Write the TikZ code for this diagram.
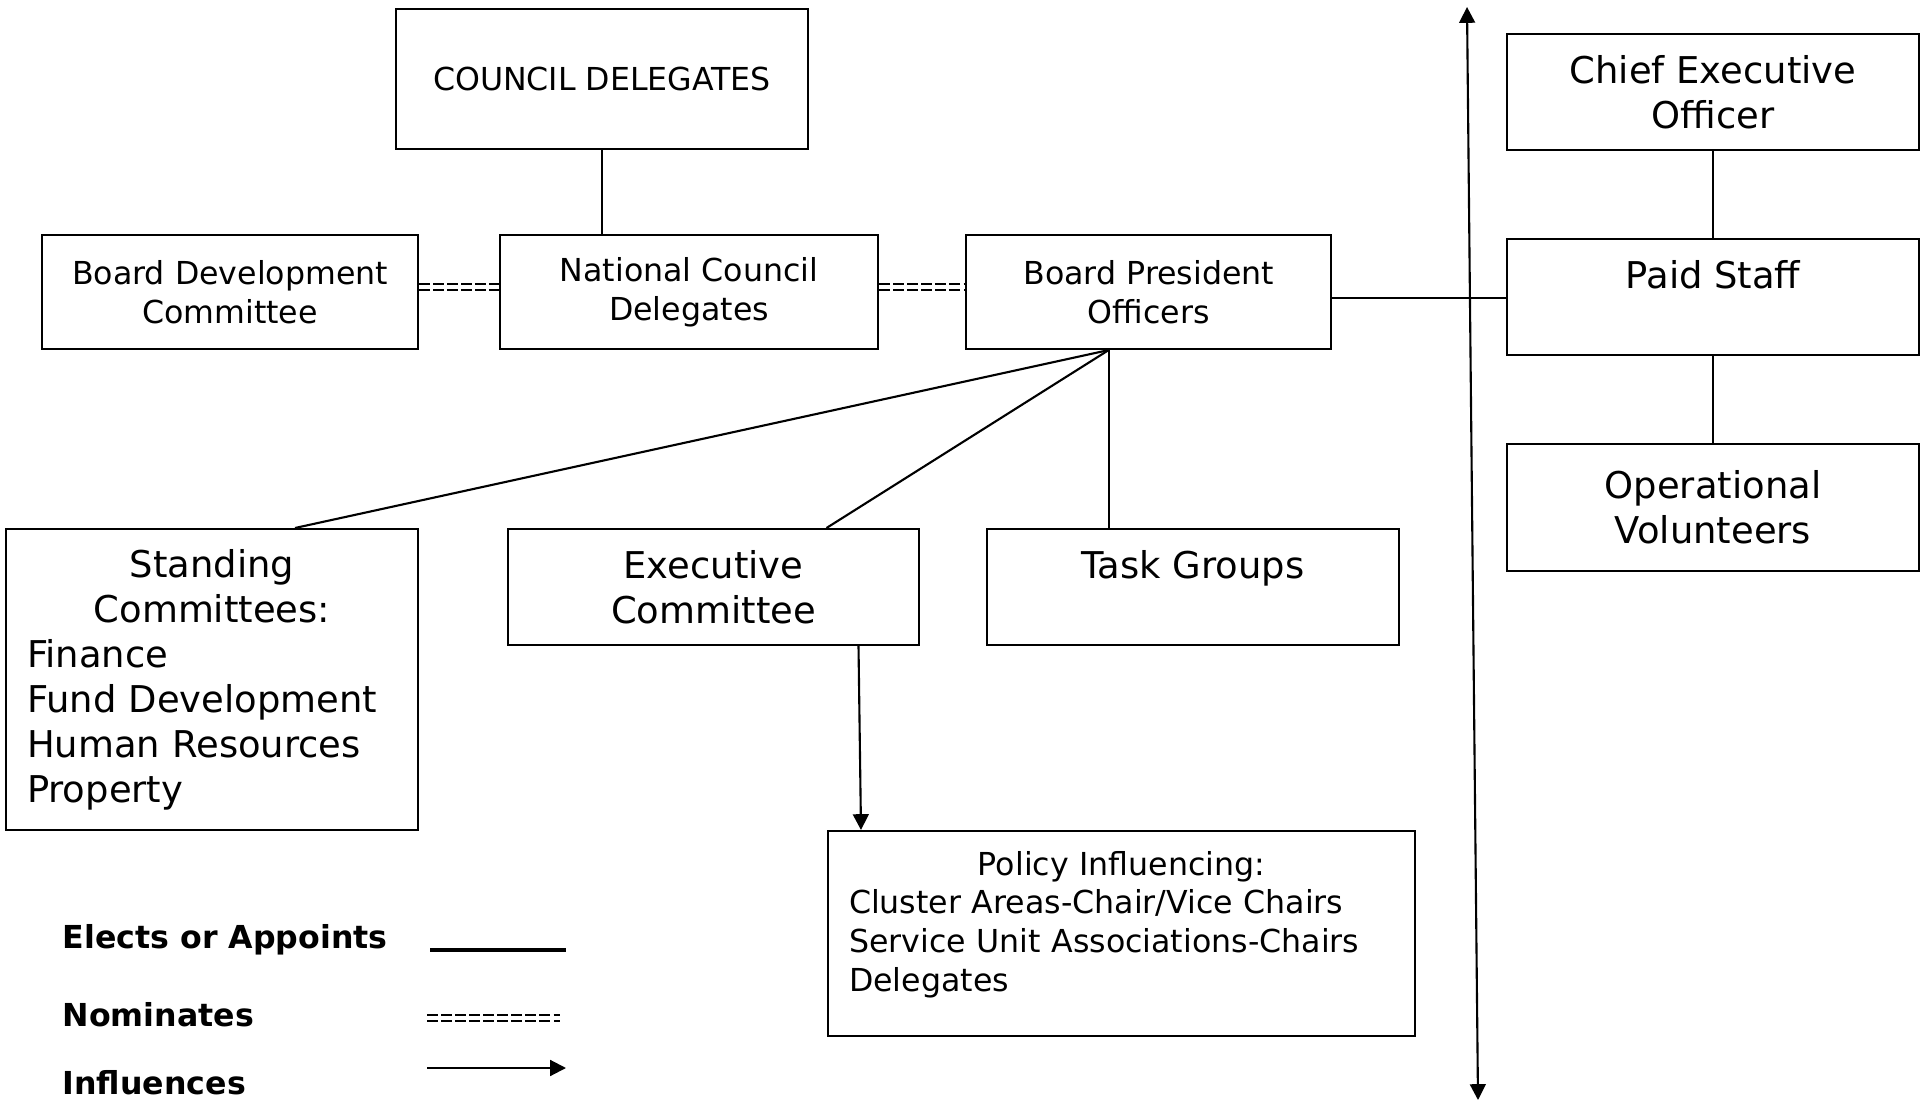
\documentclass[tikz,border=0pt]{standalone}
\usepackage{fontspec}
\setmainfont{DejaVu Sans}
\usetikzlibrary{positioning,arrows.meta}

\begin{document}
\begin{tikzpicture}[
    box/.style={rectangle, draw=black, line width=0.6pt, align=center, inner sep=2pt, font=\fontsize{9}{11}\selectfont},
    bigbox/.style={box, font=\fontsize{10.5}{12.8}\selectfont},
    elects/.style={line width=0.6pt},
    nominates/.style={double=white, double distance=1.4pt, line width=0.5pt, dash pattern=on 3pt off 1pt},
    influences/.style={line width=0.6pt, -{Triangle[length=4.5pt,width=4.5pt]}},
    twoway/.style={influences, {Triangle[length=4.5pt,width=4.5pt]}-{Triangle[length=4.5pt,width=4.5pt]}},
    key/.style={anchor=west, inner sep=0pt, font=\bfseries\fontsize{9}{11}\selectfont},
    black
    ]
    \useasboundingbox (0,0) rectangle (19.29,-11.01);

    %Nodes
    \node[box, minimum width=4.12cm, minimum height=1.40cm]    (council)    at (6.02,-0.79)               {COUNCIL DELEGATES};
    \node[box, minimum width=3.76cm, minimum height=1.14cm]    (board_dev)  at (2.30,-2.92)               {Board Development\\Committee};
    \node[box, minimum width=3.78cm, minimum height=1.14cm]    (national)   [right=0.80cm of board_dev]  {National Council\\Delegates};
    \node[box, minimum width=3.65cm, minimum height=1.14cm]    (president)  [right=0.86cm of national]   {Board President\\Officers};
    \node[bigbox, minimum width=4.12cm, minimum height=1.16cm] (ceo)        at (17.13,-0.92)              {Chief Executive\\Officer};
    \node[bigbox, minimum width=4.12cm, minimum height=1.16cm] (staff)      [below=0.87cm of ceo]        {Paid Staff\\\mbox{}};
    \node[bigbox, minimum width=4.12cm, minimum height=1.27cm] (volunteers) [below=0.87cm of staff]      {Operational\\Volunteers};
    \node[bigbox, minimum width=4.12cm, minimum height=3.01cm, text width=3.70cm, align=left, anchor=north] (standing) at (2.12,-5.28)
        {{\centering Standing\\Committees:\par}Finance\\Fund Development\\Human Resources\\Property};
    \node[bigbox, minimum width=4.11cm, minimum height=1.16cm, anchor=north] (exec) at (7.135,-5.28)    {Executive\\Committee};
    \node[bigbox, minimum width=4.12cm, minimum height=1.16cm, anchor=north] (task) at (11.927,-5.28)   {Task Groups\\\mbox{}};
    \node[box, minimum width=5.87cm, minimum height=2.05cm, text width=5.45cm, align=left, anchor=north west] (policy) at (8.27,-8.30)
        {{\centering Policy Influencing:\par}Cluster Areas-Chair/Vice Chairs\\Service Unit Associations-Chairs\\Delegates\\[-4pt]\mbox{}};

    %Legend
    \node[key] (key_elects)     at (0.62,-9.40)  {Elects or Appoints};
    \node[key] (key_nominates)  at (0.62,-10.15) {Nominates};
    \node[key] (key_influences) at (0.62,-10.83) {Influences};
    \coordinate (elects_a)     at (4.30,-9.50);
    \coordinate (elects_b)     at (5.66,-9.50);
    \coordinate (nominates_a)  at (4.27,-10.18);
    \coordinate (nominates_b)  at (5.60,-10.18);
    \coordinate (influences_a) at (4.27,-10.68);
    \coordinate (influences_b) at (5.66,-10.68);

    \coordinate (hub)         at ([xshift=-0.40cm]president.south);
    \coordinate (axis_top)    at (14.67,-0.07);
    \coordinate (axis_bottom) at (14.78,-11.00);

    %Lines
    \draw[elects]     (council.south)   -- (council.south |- national.north);
    \draw[nominates]  ([yshift=0.05cm]board_dev.east) -- ([yshift=0.05cm]national.west);
    \draw[nominates]  ([yshift=0.05cm]national.east)  -- ([yshift=0.05cm]president.west);
    \draw[elects]     ([yshift=-0.06cm]president.east) -- ([yshift=-0.06cm]president.east -| staff.west);
    \draw[elects]     (ceo.south)       -- (staff.north);
    \draw[elects]     (staff.south)     -- (volunteers.north);
    \draw[elects]     (hub)             -- ([xshift=0.83cm]standing.north);
    \draw[elects]     (hub)             -- ([xshift=1.13cm]exec.north);
    \draw[elects]     (hub)             -- (hub |- task.north);
    \draw[influences] ([xshift=1.45cm]exec.south) -- ([xshift=0.34cm]policy.north west);
    \draw[twoway]     (axis_top)        -- (axis_bottom);

    \draw[elects, line width=1pt] (elects_a)     -- (elects_b);
    \draw[nominates]              (nominates_a)  -- (nominates_b);
    \draw[influences]             (influences_a) -- (influences_b);
\end{tikzpicture}
\end{document}
